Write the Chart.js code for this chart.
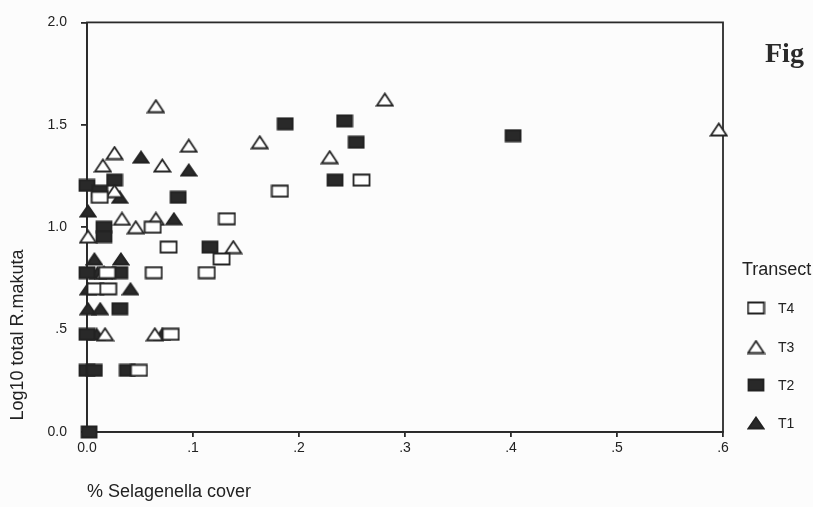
<!DOCTYPE html>
<html>
<head>
<meta charset="utf-8">
<script src="https://cdn.jsdelivr.net/npm/chart.js@4/dist/chart.umd.min.js"></script>
<style>
  html, body { margin: 0; padding: 0; background: #fcfcfc; }
  canvas { display: block; }
</style>
</head>
<body>
<canvas id="c" width="813" height="507"></canvas>
<script>
// ---- data ----
const seriesNames = ['T4', 'T3', 'T2', 'T1'];

const t4Cover = [0.012, 0.182, 0.259, 0.062, 0.132, 0.077, 0.127, 0.019, 0.063, 0.113, 0.008, 0.020, 0.079, 0.049];
const t4LogCount = [1.146, 1.176, 1.230, 1.000, 1.041, 0.903, 0.845, 0.778, 0.778, 0.778, 0.699, 0.699, 0.477, 0.301];

const t3Cover = [0.065, 0.096, 0.163, 0.026, 0.015, 0.071, 0.026, 0.033, 0.046, 0.065, 0.001, 0.138, 0.016, 0.017, 0.064, 0.281, 0.229, 0.596];
const t3LogCount = [1.591, 1.398, 1.415, 1.362, 1.301, 1.301, 1.176, 1.041, 1.000, 1.041, 0.954, 0.903, 0.778, 0.477, 0.477, 1.623, 1.342, 1.477];

const t2Cover = [0.187, 0.243, 0.254, 0.234, 0.402, 0.000, 0.026, 0.012, 0.086, 0.016, 0.016, 0.116, 0.000, 0.031, 0.031, 0.000, 0.000, 0.007, 0.038, 0.002];
const t2LogCount = [1.505, 1.519, 1.415, 1.230, 1.447, 1.204, 1.230, 1.176, 1.146, 1.000, 0.954, 0.903, 0.778, 0.778, 0.602, 0.477, 0.301, 0.301, 0.301, 0.000];

const t1Cover = [0.051, 0.096, 0.031, 0.001, 0.082, 0.007, 0.032, 0.010, 0.001, 0.041, 0.001, 0.0125, 0.009, 0.071];
const t1LogCount = [1.342, 1.279, 1.146, 1.079, 1.041, 0.845, 0.845, 0.778, 0.699, 0.699, 0.602, 0.602, 0.477, 0.477];

const xTickLabels = ['0.0', '.1', '.2', '.3', '.4', '.5', '.6'];
const yTickLabels = ['0.0', '.5', '1.0', '1.5', '2.0'];

const xTitle = '% Selagenella cover';
const yTitle = 'Log10 total R.makuta';
const legendTitle = 'Transect';
const pageMark = 'Fig';

// ---- marker images ----
const INK = '#222222';
function makeMarker(shape, filled, w, h) {
  const c = document.createElement('canvas');
  c.width = w + 3; c.height = h + 3;
  const g = c.getContext('2d');
  g.lineWidth = 1.8;
  g.strokeStyle = INK;
  g.fillStyle = filled ? '#292929' : '#ffffff';
  g.beginPath();
  if (shape === 'rect') {
    g.rect(1.5, 1.5, w, h);
  } else {
    g.moveTo(1.5 + w / 2, 1.5);
    g.lineTo(1.5 + w, 1.5 + h);
    g.lineTo(1.5, 1.5 + h);
    g.closePath();
  }
  g.fill();
  g.stroke();
  return c;
}
const markers = {
  T4: makeMarker('rect', false, 16, 11),
  T3: makeMarker('tri', false, 16, 12),
  T2: makeMarker('rect', true, 15, 11),
  T1: makeMarker('tri', true, 15, 11)
};

function pts(xs, ys) { return xs.map((x, i) => ({ x: x, y: ys[i] })); }

const seriesData = {
  T4: pts(t4Cover, t4LogCount),
  T3: pts(t3Cover, t3LogCount),
  T2: pts(t2Cover, t2LogCount),
  T1: pts(t1Cover, t1LogCount)
};

const datasets = seriesNames.map(n => ({
  label: n,
  data: seriesData[n],
  pointStyle: markers[n],
  pointRadius: 8,
  pointHoverRadius: 8,
  showLine: false,
  clip: false
}));

const FONT = "'Liberation Sans', Arial, sans-serif";

const decor = {
  id: 'decor',
  beforeDraw(chart) {
    const ctx = chart.ctx;
    ctx.save();
    ctx.fillStyle = '#fcfcfc';
    ctx.fillRect(0, 0, chart.width, chart.height);
    ctx.restore();
  },
  beforeDatasetsDraw(chart) {
    const { ctx, chartArea: a } = chart;
    ctx.save();
    ctx.strokeStyle = '#2a2a2a';
    ctx.lineWidth = 1.8;
    ctx.strokeRect(a.left, a.top, a.right - a.left, a.bottom - a.top);
    ctx.restore();
  },
  afterDraw(chart) {
    const ctx = chart.ctx;
    ctx.save();
    ctx.fillStyle = '#222';
    // axis titles
    ctx.font = '18px ' + FONT;
    ctx.textAlign = 'left';
    ctx.textBaseline = 'middle';
    ctx.fillText(xTitle, 87, 492);
    ctx.save();
    ctx.translate(18, 335);
    ctx.rotate(-Math.PI / 2);
    ctx.textAlign = 'center';
    ctx.fillText(yTitle, 0, 0);
    ctx.restore();
    // legend
    ctx.font = '18px ' + FONT;
    ctx.textAlign = 'left';
    ctx.fillText(legendTitle, 742, 270);
    ctx.font = '14px ' + FONT;
    const ys = [308, 347, 385, 423];
    seriesNames.forEach((n, i) => {
      const m = markers[n];
      ctx.drawImage(m, 756 - m.width / 2, ys[i] - m.height / 2);
      ctx.fillText(n, 778, ys[i] + 1);
    });
    // page mark
    ctx.font = "bold 28px 'Liberation Serif', 'Times New Roman', serif";
    ctx.fillStyle = '#2a2a2a';
    ctx.fillText(pageMark, 765, 55);
    ctx.restore();
  }
};

new Chart(document.getElementById('c'), {
  type: 'scatter',
  data: { datasets: datasets },
  options: {
    responsive: false,
    animation: false,
    devicePixelRatio: 1,
    layout: { padding: { left: 0, top: 15, right: 90, bottom: 0 } },
    plugins: {
      legend: { display: false },
      tooltip: { enabled: false }
    },
    scales: {
      x: {
        type: 'linear', position: 'bottom', min: 0, max: 0.6,
        afterFit: s => { s.height = 75; },
        ticks: {
          stepSize: 0.1, autoSkip: false, maxRotation: 0, padding: 3,
          color: '#222', font: { family: FONT, size: 14 },
          callback: v => xTickLabels[Math.round(v * 10)]
        },
        grid: { display: true, drawOnChartArea: false, tickLength: 5, color: '#2a2a2a', lineWidth: 1.8 },
        border: { display: true, color: '#2a2a2a', width: 1.8 }
      },
      y: {
        type: 'linear', position: 'left', min: 0, max: 2,
        afterFit: s => { s.width = 87; },
        ticks: {
          stepSize: 0.5, autoSkip: false, padding: 14,
          color: '#222', font: { family: FONT, size: 14 },
          callback: v => yTickLabels[Math.round(v * 2)]
        },
        grid: { display: true, drawOnChartArea: false, tickLength: 6, color: '#2a2a2a', lineWidth: 1.8 },
        border: { display: true, color: '#2a2a2a', width: 1.8 }
      }
    }
  },
  plugins: [decor]
});
</script>
</body>
</html>
